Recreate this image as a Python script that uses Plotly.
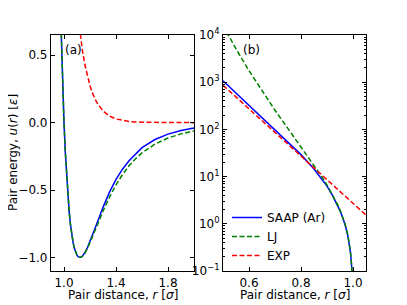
import plotly.graph_objects as go

# ---------------- data ----------------
r_grid = [0.50, 0.52, 0.55, 0.60, 0.65, 0.70, 0.75, 0.80, 0.85, 0.88, 0.90, 0.92,
          0.94, 0.95, 0.96, 0.97, 0.98, 0.99, 0.995, 0.998, 1.00, 1.01, 1.02, 1.03,
          1.04, 1.05, 1.06, 1.07, 1.08, 1.09, 1.10, 1.11, 1.12, 1.13, 1.14, 1.15,
          1.16, 1.18, 1.20, 1.22, 1.25, 1.30, 1.35, 1.40, 1.45, 1.50, 1.55, 1.60,
          1.70, 1.80, 1.90, 2.00]

u_lj = [16128, 10030, 5074, 1751.5, 650.1, 255.0, 103.8, 42.95, 17.52, 9.93, 6.636, 4.283,
        2.607, 1.962, 1.418, 0.963, 0.582, 0.2645, 0.1259, 0.0489, 0.0, -0.2184, -0.398, -0.5444,
        -0.663, -0.7575, -0.832, -0.8894, -0.932, -0.9629, -0.983, -0.9952, -0.9998, -0.9984, -0.992, -0.9817,
        -0.968, -0.933, -0.891, -0.8452, -0.774, -0.657, -0.552, -0.461, -0.3842, -0.320, -0.2677, -0.224,
        -0.159, -0.114, -0.0832, -0.0615]

u_saap = [1070, 843, 590, 324, 178, 98, 53.7, 29.2, 14.5, 9.0, 6.3, 4.1,
          2.5, 1.9, 1.37, 0.93, 0.56, 0.255, 0.121, 0.047, 0.0, -0.2184, -0.398, -0.5444,
          -0.663, -0.7575, -0.832, -0.8894, -0.932, -0.9629, -0.983, -0.9952, -0.9998, -0.9984, -0.991, -0.979,
          -0.965, -0.928, -0.882, -0.832, -0.755, -0.628, -0.515, -0.42, -0.345, -0.283, -0.232, -0.185,
          -0.125, -0.085, -0.058, -0.040]

r_exp = [0.50, 0.80, 1.00, 1.05, 1.08, 1.10, 1.12, 1.14, 1.16, 1.18, 1.20, 1.22, 1.25,
         1.30, 1.35, 1.40, 1.45, 1.50, 1.60, 1.70, 1.80, 2.00]
u_exp = [863, 27.3, 2.73, 1.535, 1.087, 0.863, 0.686, 0.545, 0.433, 0.344, 0.273, 0.217, 0.1535,
         0.0863, 0.0485, 0.0273, 0.01535, 0.00863, 0.00273, 0.00086, 0.00027, 0.000027]

names = ["SAAP (Ar)", "LJ", "EXP"]
colors = ["#0000ff", "#008000", "#ff0000"]
dashes = ["solid", "5px,2.5px", "5px,2.5px"]

xticks_a = [1.0, 1.4, 1.8]
xticks_a_text = ["1.0", "1.4", "1.8"]
yticks_a = [0.5, 0.0, -0.5, -1.0]
yticks_a_text = ["0.5", "0.0", "\u22120.5", "\u22121.0"]
xticks_b = [0.6, 0.8, 1.0]
xticks_b_text = ["0.6", "0.8", "1.0"]
yticks_b = [0.1, 1, 10, 100, 1000, 10000]
yticks_b_text = ["10<sup>\u22121</sup>", "10<sup>0</sup>", "10<sup>1</sup>",
                 "10<sup>2</sup>", "10<sup>3</sup>", "10<sup>4</sup>"]
yminor_b = [m * 10 ** k for k in range(-1, 4) for m in range(2, 10)]

# ---------------- figure ----------------
# the page body adds an 8px margin, so the figure is 8px smaller and all
# page-pixel positions are shifted by 8px
OFF = 8
W, H = 407 - OFF, 305 - OFF


def px(x):
    return (x - OFF) / W


def py(y):
    return 1 - (y - OFF) / H


FONT = "DejaVu Sans"
fig = go.Figure()

series = [(r_grid, u_saap), (r_grid, u_lj), (r_exp, u_exp)]
for i, (rx, uy) in enumerate(series):
    fig.add_trace(go.Scatter(x=rx, y=uy, mode="lines", name=names[i], showlegend=False,
                             line=dict(color=colors[i], width=1.5, dash=dashes[i]),
                             xaxis="x", yaxis="y"))
for i, (rx, uy) in enumerate(series):
    fig.add_trace(go.Scatter(x=rx, y=uy, mode="lines", name=names[i], showlegend=True,
                             line=dict(color=colors[i], width=1.5, dash=dashes[i]),
                             xaxis="x2", yaxis="y2"))

common = dict(showline=True, linecolor="black", linewidth=1.2, mirror="ticks",
              ticks="inside", ticklen=4, tickwidth=1, tickcolor="black",
              showgrid=False, zeroline=False, automargin=False,
              tickfont=dict(family=FONT, size=12, color="black"))

fig.update_layout(
    width=W, height=H,
    margin=dict(l=0, r=0, t=0, b=0),
    paper_bgcolor="white", plot_bgcolor="white",
    font=dict(family=FONT, size=12, color="black"),
    xaxis=dict(domain=[px(51), px(194)], range=[0.9, 2.0], anchor="y",
               tickmode="array", tickvals=xticks_a, ticktext=xticks_a_text, **common),
    yaxis=dict(domain=[py(271), py(35)], range=[-1.1, 0.65], anchor="x",
               tickmode="array", tickvals=yticks_a, ticktext=yticks_a_text, **common),
    xaxis2=dict(domain=[px(223), px(366)], range=[0.5, 1.05], anchor="y2",
                tickmode="array", tickvals=xticks_b, ticktext=xticks_b_text, **common),
    yaxis2=dict(domain=[py(271), py(35)], type="log", range=[-1, 4], anchor="x2",
                tickmode="array", tickvals=yticks_b, ticktext=yticks_b_text,
                minor=dict(tickmode="array", tickvals=yminor_b, ticks="inside",
                           ticklen=2, tickwidth=0.8, tickcolor="black", showgrid=False),
                **common),
    legend=dict(x=px(227), y=py(203), xanchor="left", yanchor="top",
                bgcolor="rgba(0,0,0,0)", borderwidth=0,
                font=dict(family=FONT, size=12, color="black"),
                tracegroupgap=0),
    showlegend=True,
)

ann = [
    dict(text="(a)", x=px(63), y=py(50), xanchor="left", yanchor="middle"),
    dict(text="(b)", x=px(241), y=py(50), xanchor="left", yanchor="middle"),
    dict(text="Pair distance, <i>r</i> [<i>\u03c3</i>]", x=px(122.5), y=py(295),
         xanchor="center", yanchor="middle"),
    dict(text="Pair distance, <i>r</i> [<i>\u03c3</i>]", x=px(294.5), y=py(295),
         xanchor="center", yanchor="middle"),
    dict(text="Pair energy, <i>u</i>(<i>r</i>) [<i>\u03b5</i>]", x=px(13), y=py(153),
         xanchor="center", yanchor="middle", textangle=-90),
]
for a in ann:
    fig.add_annotation(xref="paper", yref="paper", showarrow=False,
                       font=dict(family=FONT, size=12, color="black"), **a)

fig.write_html("out.html")
